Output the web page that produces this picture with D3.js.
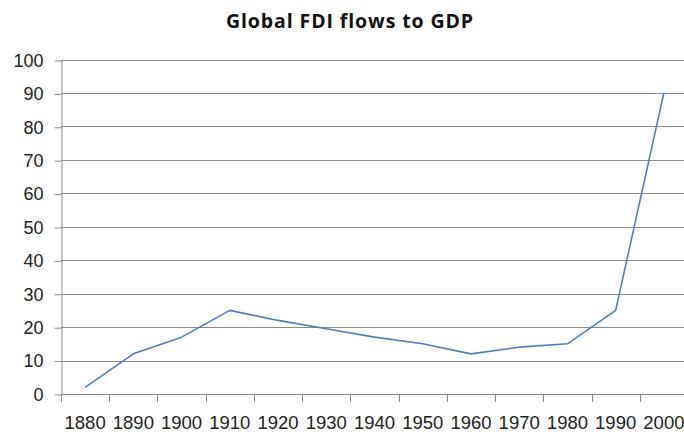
<!DOCTYPE html>
<html>
<head>
<meta charset="utf-8">
<script src="https://cdn.jsdelivr.net/npm/d3@7"></script>
<style>
  body { margin: 0; background: #fff; }
  svg { display: block; }
</style>
</head>
<body>
<svg id="chart" width="684" height="432"></svg>
<script>
// data
const years = ["1880", "1890", "1900", "1910", "1920", "1930", "1940", "1950", "1960", "1970", "1980", "1990", "2000"];
const fdiValues = [2, 12, 17, 25, 22, 19.5, 17, 15, 12, 14, 15, 25, 90];
const yTicks = [0, 10, 20, 30, 40, 50, 60, 70, 80, 90, 100];

const svg = d3.select("#chart");

const plotLeft = 61, plotRight = 688, plotTop = 59.5, plotBottom = 394;

const x = d3.scaleBand().domain(years).range([plotLeft, plotRight]).padding(0);
const y = d3.scaleLinear().domain([0, 100]).range([plotBottom, plotTop]);

const gridColor = "#8c8c8c";
const labelFont = "'Liberation Sans', Arial, sans-serif";
const snap = v => Math.round(v) + 0.5;

// gridlines
svg.append("g")
    .selectAll("line")
    .data(yTicks.filter(d => d > 0))
    .enter().append("line")
    .attr("x1", plotLeft)
    .attr("x2", plotRight)
    .attr("y1", d => snap(y(d)))
    .attr("y2", d => snap(y(d)))
    .attr("stroke", gridColor)
    .attr("stroke-width", 1);

// y axis (ticks snapped to pixels)
const ySnapped = d3.scaleLinear().domain([0, 100]).range([snap(plotBottom), snap(y(100))]);
const yAxis = svg.append("g")
    .attr("transform", `translate(${snap(plotLeft)},0)`)
    .call(d3.axisLeft(ySnapped).tickValues(yTicks).tickSize(7).tickPadding(11).tickSizeOuter(0));
yAxis.select(".domain").attr("stroke", gridColor);
yAxis.selectAll(".tick line").attr("stroke", gridColor);
yAxis.selectAll("text")
    .style("font-size", "18px")
    .style("fill", "#222")
    .style("font-family", labelFont);

// x axis line + boundary ticks
svg.append("line")
    .attr("x1", plotLeft).attr("x2", plotRight)
    .attr("y1", snap(plotBottom)).attr("y2", snap(plotBottom))
    .attr("stroke", gridColor);

const boundaries = years.map(d => x(d)).concat([x(years[years.length - 1]) + x.bandwidth()]);
svg.append("g")
    .selectAll("line")
    .data(boundaries)
    .enter().append("line")
    .attr("x1", d => snap(d))
    .attr("x2", d => snap(d))
    .attr("y1", plotBottom)
    .attr("y2", plotBottom + 8)
    .attr("stroke", gridColor);

// x labels
const xAxis = svg.append("g")
    .attr("transform", `translate(0,${plotBottom})`)
    .call(d3.axisBottom(x).tickSize(0).tickPadding(22));
xAxis.select(".domain").remove();
xAxis.selectAll("text")
    .style("font-size", "18.5px")
    .style("fill", "#222")
    .style("font-family", labelFont);

// the line
const line = d3.line()
    .x((d, i) => x(years[i]) + x.bandwidth() / 2)
    .y(d => y(d));

svg.append("path")
    .datum(fdiValues)
    .attr("d", line)
    .attr("fill", "none")
    .attr("stroke", "#4f81bd")
    .attr("stroke-width", 1.6)
    .attr("stroke-linejoin", "round");

// title
svg.append("text")
    .attr("x", 350)
    .attr("y", 28)
    .attr("text-anchor", "middle")
    .style("font-size", "19.5px")
    .style("font-weight", "bold")
    .style("letter-spacing", "0.9px")
    .style("fill", "#111")
    .style("font-family", "'Open Sans', sans-serif")
    .text("Global FDI flows to GDP");
</script>
</body>
</html>
